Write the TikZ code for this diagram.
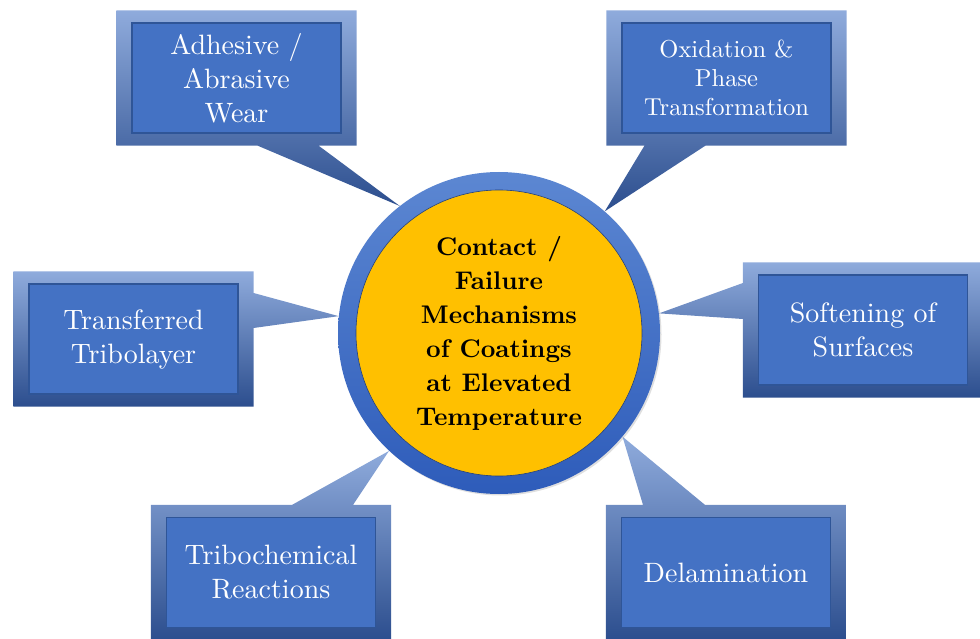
\documentclass[tikz,border=0pt]{standalone}
\usepackage{fontspec}
\setmainfont{lmroman10-regular.otf}[BoldFont=lmroman10-bold.otf]
\usepackage{tikz}
\usetikzlibrary{
  backgrounds,
  calc,
  shadows,
}
\definecolor{boxblue}{RGB}{68, 114, 196}
\definecolor{boxedge}{RGB}{47, 85, 151}
\definecolor{framelight}{RGB}{143, 171, 220}
\definecolor{framedark}{RGB}{44, 78, 142}
\definecolor{ringlight}{RGB}{92, 135, 210}
\definecolor{ringdark}{RGB}{46, 92, 186}
\definecolor{coreyellow}{RGB}{255, 192, 0}

\tikzstyle{mech} = [
  draw=boxedge,
  line width=1.2pt,
  fill=boxblue,
  rectangle,
  minimum width=209,
  minimum height=110,
  align=center,
  text=white,
  font=\fontsize{28}{34}\selectfont,
]
\tikzstyle{frame} = [
  shading=axis,
  top color=framelight,
  bottom color=framedark,
]

\begin{document}
\begin{tikzpicture}[x=1pt,y=-1pt]
      \useasboundingbox (0,0) rectangle (980,639);

      % hub in the middle
      \node[circle,minimum size=322,shading=axis,top color=ringlight,bottom color=ringdark,
            drop shadow={shadow xshift=1.5pt,shadow yshift=-1.5pt,opacity=0.25}] (hub) at (499,333) {};
      \node[circle,minimum size=286,inner sep=0,fill=coreyellow,draw=ringdark!70!black,line width=0.6pt,
            align=center,font=\fontsize{25.5}{34}\selectfont\bfseries] (core) at (hub) {Contact /\\ Failure\\ Mechanisms\\ of Coatings\\ at Elevated\\ Temperature};

      % the six mechanisms
      \node[mech] (wear)  at (236.5,78)  {Adhesive /\\ Abrasive\\ Wear};
      \node[mech,font=\fontsize{24.5}{29}\selectfont] (oxid) at (726.5,78) {Oxidation \&\\ Phase\\ Transformation};
      \node[mech] (trans) at (133.5,339) {Transferred\\ Tribolayer};
      \node[mech] (soft)  at (863,330)   {Softening of\\ Surfaces};
      \node[mech] (tribo) at (271,572.5) {Tribochemical\\ Reactions};
      \node[mech] (delam) at (726,572.5) {Delamination};

      % callout frames, pointing at the hub
      \begin{scope}[on background layer]
        \path[frame] ($(wear.north west)+(-15,-12)$) -- ($(wear.north east)+(15,-12)$)
          -- ($(wear.south east)+(15,12)$) -- ($(wear.south)+(82,12)$) -- (hub.128)
          -- ($(wear.south)+(21,12)$) -- ($(wear.south west)+(-15,12)$) -- cycle;
        \path[frame] ($(oxid.north west)+(-15,-12)$) -- ($(oxid.north east)+(15,-12)$)
          -- ($(oxid.south east)+(15,12)$) -- ($(oxid.south)+(-21,12)$) -- (hub.49)
          -- ($(oxid.south)+(-82,12)$) -- ($(oxid.south west)+(-15,12)$) -- cycle;
        \path[frame] ($(trans.north west)+(-15,-12)$) -- ($(trans.north east)+(15,-12)$)
          -- ($(trans.east)+(15,-46)$) -- (hub.174) -- ($(trans.east)+(15,-11)$)
          -- ($(trans.south east)+(15,12)$) -- ($(trans.south west)+(-15,12)$) -- cycle;
        \path[frame] ($(soft.north west)+(-15,-12)$) -- ($(soft.north east)+(15,-12)$)
          -- ($(soft.south east)+(15,12)$) -- ($(soft.south west)+(-15,12)$)
          -- ($(soft.west)+(-15,-11)$) -- (hub.7) -- ($(soft.west)+(-15,-47)$) -- cycle;
        \path[frame] ($(tribo.north west)+(-15,-12)$) -- ($(tribo.north)+(21,-12)$) -- (hub.227)
          -- ($(tribo.north)+(82,-12)$) -- ($(tribo.north east)+(15,-12)$)
          -- ($(tribo.south east)+(15,12)$) -- ($(tribo.south west)+(-15,12)$) -- cycle;
        \path[frame] ($(delam.north west)+(-15,-12)$) -- ($(delam.north)+(-83,-12)$) -- (hub.320)
          -- ($(delam.north)+(-21,-12)$) -- ($(delam.north east)+(15,-12)$)
          -- ($(delam.south east)+(15,12)$) -- ($(delam.south west)+(-15,12)$) -- cycle;
      \end{scope}

    \end{tikzpicture}
\end{document}
